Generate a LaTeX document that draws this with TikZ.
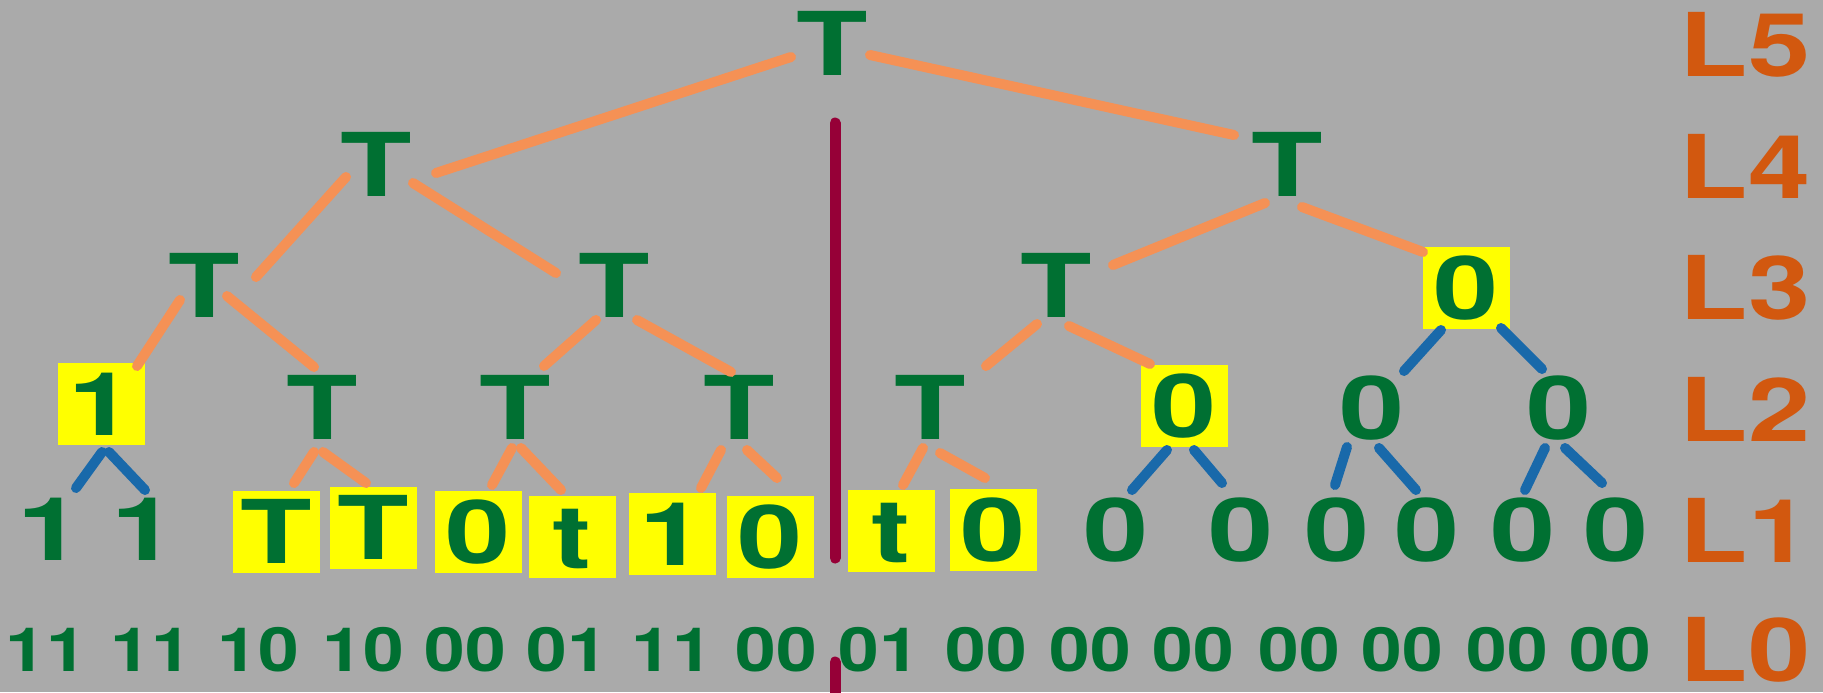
\documentclass[tikz,border=0pt]{standalone}
\usepackage{graphicx}
\usepackage{fontspec}
\setmainfont{TeX Gyre Heros}
\usetikzlibrary{calc}

\definecolor{bggray}{RGB}{170,170,170}
\definecolor{tgreen}{RGB}{0,112,50}
\definecolor{lvlorange}{RGB}{210,88,15}
\definecolor{edgeorange}{RGB}{245,145,85}
\definecolor{edgeblue}{RGB}{25,105,170}
\definecolor{divider}{RGB}{150,0,55}
\definecolor{hlyellow}{RGB}{255,255,0}

% glyphs are set wider than the plain bold face
\newcommand{\wide}[1]{\scalebox{1.33}[1]{#1}}
\newcommand{\wideL}[1]{\scalebox{1.27}[1]{#1}}
\newcommand{\widebits}[1]{\scalebox{1.2}[1]{#1}}

\tikzset{
  sym/.style={text=tgreen, inner sep=0pt, outer sep=0pt,
    font=\fontsize{44}{48}\selectfont\bfseries,
    text height=31.5pt, text depth=0pt},
  hbox/.style={sym, fill=hlyellow, minimum width=43.5pt, minimum height=41pt},
  bits/.style={text=tgreen, inner sep=0pt,
    font=\fontsize{30.5}{33}\selectfont\bfseries,
    text height=21.8pt, text depth=0pt},
  lvl/.style={text=lvlorange, inner sep=0pt,
    font=\fontsize{44}{48}\selectfont\bfseries,
    text height=31.5pt, text depth=0pt},
  oedge/.style={draw=edgeorange, line width=5pt, line cap=round},
  bedge/.style={draw=edgeblue, line width=5pt, line cap=round},
  divline/.style={draw=divider, line width=5.5pt, line cap=round}
}

\begin{document}
\begin{tikzpicture}[x=0.5pt, y=-0.5pt]
  \fill[bggray] (0,0) rectangle (1823,692);
  \useasboundingbox (0,0) rectangle (1823,692);

  % level 5
  \node[sym] (r) at (832,44) {\wide{T}};
  % level 4
  \node[sym] (a) at (376,165) {\wide{T}};
  \node[sym] (b) at (1287,165) {\wide{T}};
  % level 3
  \node[sym]  (aa) at (204,286) {\wide{T}};
  \node[sym]  (ab) at (614,286) {\wide{T}};
  \node[sym]  (ba) at (1056,286) {\wide{T}};
  \node[hbox] (bb) at (1466,288) {\wide{0}};
  % level 2
  \node[hbox] (aaa) at (101,404) {\wide{1}};
  \node[sym]  (aab) at (322,408) {\wide{T}};
  \node[sym]  (aba) at (515,408) {\wide{T}};
  \node[sym]  (abb) at (739,408) {\wide{T}};
  \node[sym]  (baa) at (930,408) {\wide{T}};
  \node[hbox] (bab) at (1184,406) {\wide{0}};
  \node[sym]  (bba) at (1372,408) {\wide{0}};
  \node[sym]  (bbb) at (1559,408) {\wide{0}};
  % level 1
  \node[sym]  (c1)  at (50,529)   {\wide{1}};
  \node[sym]  (c2)  at (144,529)  {\wide{1}};
  \node[hbox] (c3)  at (276,532)  {\wide{T}};
  \node[hbox] (c4)  at (373,528)  {\wide{T}};
  \node[hbox] (c5)  at (478,532)  {\wide{0}};
  \node[hbox] (c6)  at (572,537)  {\wide{t}};
  \node[hbox] (c7)  at (672,534)  {\wide{1}};
  \node[hbox] (c8)  at (770,537)  {\wide{0}};
  \node[hbox] (c9)  at (891,531)  {\wide{t}};
  \node[hbox] (c10) at (993,530)  {\wide{0}};
  \node[sym]  (c11) at (1116,530) {\wide{0}};
  \node[sym]  (c12) at (1241,530) {\wide{0}};
  \node[sym]  (c13) at (1337,530) {\wide{0}};
  \node[sym]  (c14) at (1427,530) {\wide{0}};
  \node[sym]  (c15) at (1523,530) {\wide{0}};
  \node[sym]  (c16) at (1616,530) {\wide{0}};
  % level 0: raw bit pairs
  \foreach \x/\b [count=\i] in {46/11,151/11,258/10,363/10,465/00,567/01,672/11,776/00,
      879/01,986/00,1090/00,1193/00,1299/00,1402/00,1507/00,1610/00}
    \node[bits] (p\i) at (\x,650) {\widebits{\b}};

  % level labels
  \node[lvl] (L5) at (1745,45)  {\wideL{L5}};
  \node[lvl] (L4) at (1745,167) {\wideL{L4}};
  \node[lvl] (L3) at (1745,288) {\wideL{L3}};
  \node[lvl] (L2) at (1745,410) {\wideL{L2}};
  \node[lvl] (L1) at (1745,531) {\wideL{L1}};
  \node[lvl] (L0) at (1745,650) {\wideL{L0}};

  % divider between the two halves
  \coordinate (dtop) at (835,123);
  \coordinate (dmid) at (835,558);
  \coordinate (dlow) at (835,662);
  \coordinate (dbot) at (835,700);
  \draw[divline] (dtop) -- (dmid);
  \draw[divline] (dlow) -- (dbot);

  % tree edges
  \draw[oedge] ($(r)+(-41,13)$) -- ($(a)+(60,8)$);
  \draw[oedge] ($(r)+(38,11)$) -- ($(b)+(-53,-30)$);
  \draw[oedge] ($(a)+(-30,12)$) -- ($(aa)+(52,-9)$);
  \draw[oedge] ($(a)+(37,18)$) -- ($(ab)+(-58,-13)$);
  \draw[oedge] ($(b)+(-22,38)$) -- ($(ba)+(57,-21)$);
  \draw[oedge] ($(b)+(15,42)$) -- ($(bb)+(-43,-36)$);
  \draw[oedge] ($(aa)+(-24,14)$) -- ($(aaa)+(36,-38)$);
  \draw[oedge] ($(aa)+(23,10)$) -- ($(aab)+(-8,-41)$);
  \draw[oedge] ($(ab)+(-18,34)$) -- ($(aba)+(29,-42)$);
  \draw[oedge] ($(ab)+(23,34)$) -- ($(abb)+(-8,-36)$);
  \draw[oedge] ($(ba)+(-19,38)$) -- ($(baa)+(56,-42)$);
  \draw[oedge] ($(ba)+(13,40)$) -- ($(bab)+(-34,-42)$);
  \draw[bedge] ($(bb)+(-25,42)$) -- ($(bba)+(32,-37)$);
  \draw[bedge] ($(bb)+(35,40)$) -- ($(bbb)+(-17,-39)$);

  \draw[bedge] ($(aaa)+(1,48)$) -- ($(c1)+(26,-41)$);
  \draw[bedge] ($(aaa)+(8,48)$) -- ($(c2)+(1,-39)$);
  \draw[oedge] ($(aab)+(-8,44)$) -- ($(c3)+(18,-49)$);
  \draw[oedge] ($(aab)+(1,44)$) -- ($(c4)+(-7,-45)$);
  \draw[oedge] ($(aba)+(-3,40)$) -- ($(c5)+(14,-47)$);
  \draw[oedge] ($(aba)+(6,40)$) -- ($(c6)+(-11,-47)$);
  \draw[oedge] ($(abb)+(-18,42)$) -- ($(c7)+(29,-46)$);
  \draw[oedge] ($(abb)+(8,42)$) -- ($(c8)+(7,-59)$);
  \draw[oedge] ($(baa)+(-7,40)$) -- ($(c9)+(12,-46)$);
  \draw[oedge] ($(baa)+(10,45)$) -- ($(c10)+(-8,-52)$);
  \draw[bedge] ($(bab)+(-17,44)$) -- ($(c11)+(16,-40)$);
  \draw[bedge] ($(bab)+(10,44)$) -- ($(c12)+(-19,-47)$);
  \draw[bedge] ($(bba)+(-25,39)$) -- ($(c13)+(-2,-45)$);
  \draw[bedge] ($(bba)+(7,40)$) -- ($(c14)+(-11,-40)$);
  \draw[bedge] ($(bbb)+(-14,40)$) -- ($(c15)+(2,-40)$);
  \draw[bedge] ($(bbb)+(6,40)$) -- ($(c16)+(-14,-47)$);
\end{tikzpicture}
\end{document}
